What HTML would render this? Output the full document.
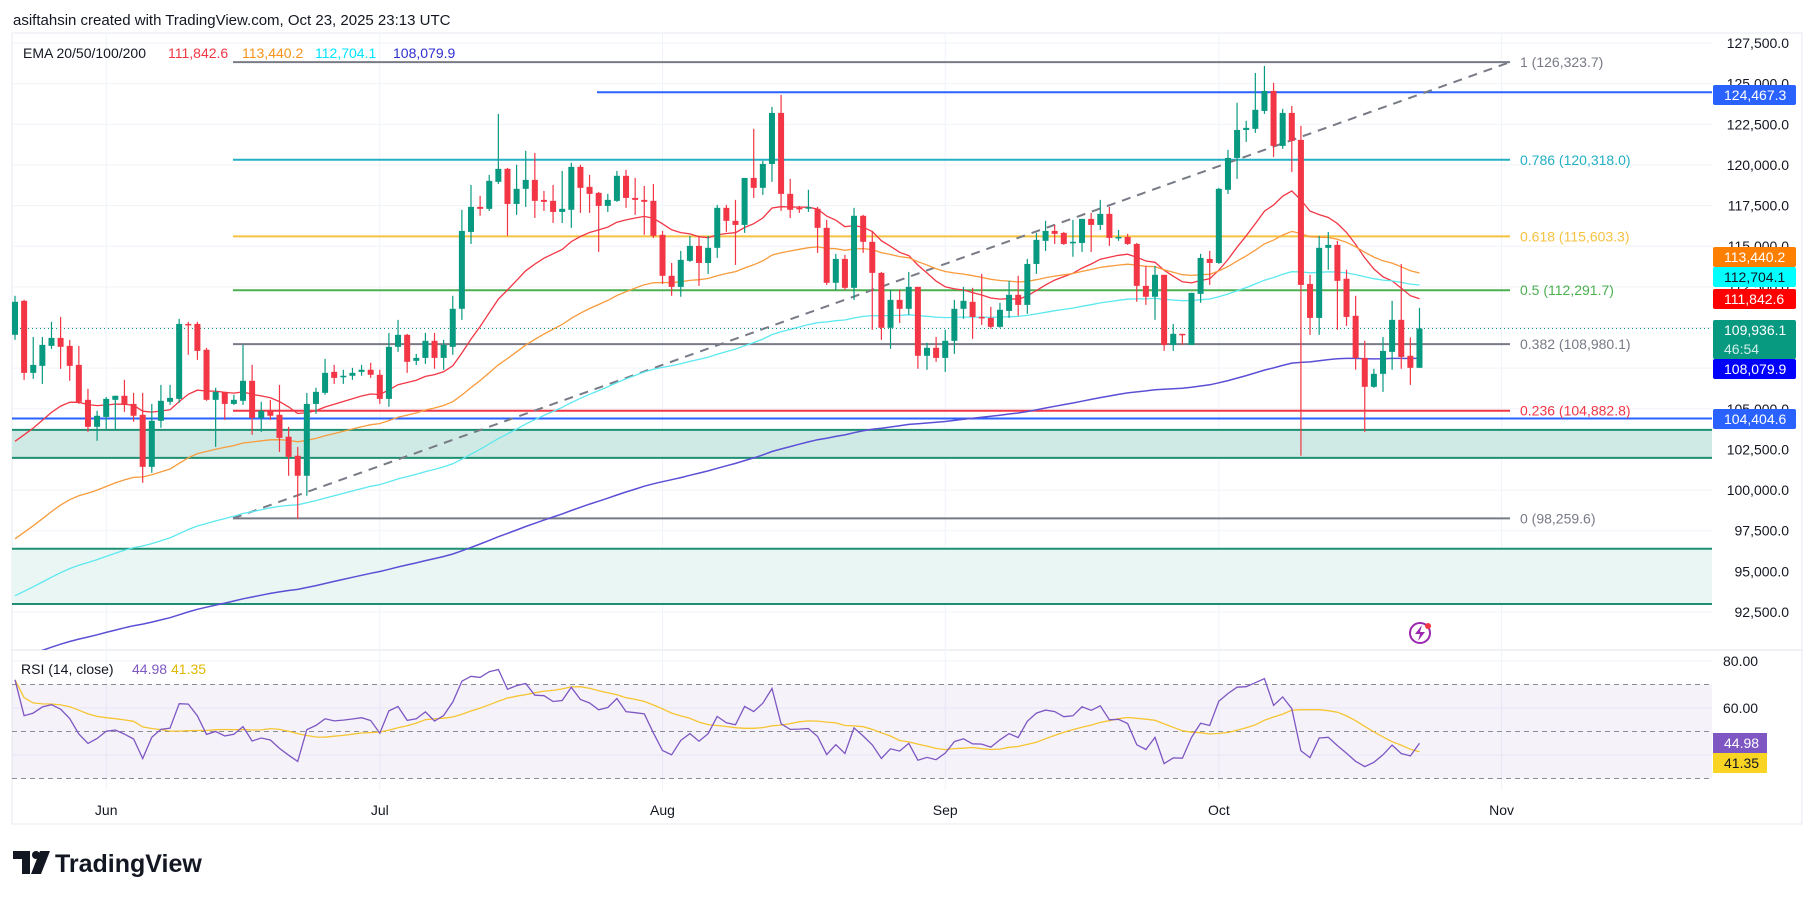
<!DOCTYPE html>
<html><head><meta charset="utf-8"><style>
body{margin:0;background:#fff;width:1815px;height:900px;overflow:hidden;font-family:"Liberation Sans",sans-serif}
svg{position:absolute;left:0;top:0}
</style></head><body>
<svg id="c" width="1815" height="900" xmlns="http://www.w3.org/2000/svg"></svg>
<script>
const opens=[109.55,111.64,107.21,107.64,108.87,109.36,108.87,107.70,105.55,103.89,
104.50,105.55,105.80,105.30,104.63,101.43,104.26,105.43,105.61,110.22,
110.22,108.63,105.55,106.04,105.30,105.49,106.72,104.44,104.88,104.63,
103.28,102.11,100.88,105.30,105.98,107.27,106.97,107.03,107.27,107.40,
107.09,105.61,108.81,109.55,107.95,108.13,109.18,108.13,108.81,111.15,
115.88,117.42,117.30,118.96,119.76,117.60,118.53,119.08,117.85,117.79,
117.11,117.24,119.88,118.65,118.28,117.48,117.79,119.33,117.97,117.85,
117.79,115.70,113.18,112.50,114.10,115.02,113.97,114.90,117.36,116.56,
116.31,119.20,118.59,120.06,123.20,118.22,117.36,117.36,117.30,116.13,
112.75,114.22,112.44,116.87,115.27,113.36,109.98,111.70,111.15,112.50,
108.26,108.75,108.13,109.18,111.15,111.58,110.65,110.59,110.04,111.02,
112.01,111.39,113.91,115.33,115.94,115.82,115.20,115.20,116.68,116.31,
116.99,115.51,115.57,115.14,112.56,111.89,113.24,108.93,109.61,108.93,
112.07,114.22,113.97,118.47,120.43,122.15,122.22,123.32,124.55,121.17,
123.20,121.54,112.68,110.59,114.90,115.08,113.00,110.72,108.13,106.35,
107.15,108.50,110.47,108.26,107.52];
const closes=[111.58,107.21,107.70,108.93,109.36,108.81,107.64,105.43,103.89,104.57,
105.61,105.80,105.24,104.57,101.43,104.26,105.49,105.67,110.22,110.16,
108.56,105.55,106.04,105.30,105.55,106.72,104.44,104.88,104.57,103.21,
102.04,100.88,105.30,106.04,107.21,106.90,107.03,107.21,107.40,107.09,
105.61,108.81,109.55,107.89,108.13,109.18,108.13,108.93,111.15,115.94,
117.42,117.30,119.02,119.76,117.60,118.53,119.08,117.79,117.73,117.11,
117.30,119.88,118.59,118.22,117.48,117.85,119.33,117.97,117.85,117.73,
115.64,113.18,112.50,114.16,115.02,113.97,114.90,117.36,116.56,116.31,
119.20,118.59,120.06,123.20,118.22,117.24,117.30,117.40,116.13,112.75,
114.22,112.44,116.87,115.27,113.36,109.98,111.70,111.15,112.50,108.26,
108.75,108.13,109.18,111.15,111.64,110.65,110.59,110.04,111.09,112.01,
111.39,113.91,115.39,115.94,115.76,115.14,115.27,116.68,116.31,116.99,
115.51,115.57,115.14,112.56,111.89,113.24,108.93,109.61,109.55,112.13,
114.28,113.97,118.53,120.43,122.15,122.28,123.39,124.55,121.17,123.20,
121.48,112.62,110.59,114.90,115.08,112.87,110.65,108.13,106.35,107.15,
108.56,110.47,108.19,107.52,109.94];
const highs=[111.95,111.70,109.42,109.42,110.35,110.65,109.24,108.87,106.23,104.88,
105.73,105.80,106.78,105.98,105.98,105.30,106.47,106.47,110.53,110.35,
110.35,108.75,106.29,106.04,105.86,108.93,107.70,105.43,105.55,106.47,
103.89,102.66,105.98,106.29,108.07,107.70,107.40,107.52,107.70,107.83,
107.40,109.67,110.47,109.61,108.38,109.67,109.67,109.24,111.95,117.24,
118.77,118.10,119.39,123.14,119.82,120.01,120.87,120.74,118.40,118.77,
119.63,120.13,120.01,119.39,118.34,118.22,119.63,119.70,119.20,118.71,
118.83,115.94,113.97,114.71,115.64,115.64,115.64,117.54,117.54,117.85,
119.20,122.22,120.25,123.57,124.31,119.14,117.48,118.47,117.42,116.62,
114.53,114.47,117.36,116.93,115.94,113.42,112.32,112.32,113.42,112.50,
109.06,109.42,109.86,111.70,112.50,112.44,113.30,111.27,111.52,112.87,
113.18,114.22,115.82,116.56,116.31,115.88,116.62,116.68,117.05,117.85,
117.42,116.00,115.76,115.20,113.79,113.79,113.24,110.22,109.61,112.13,
114.53,114.71,118.59,120.93,123.82,122.71,125.66,126.09,125.05,123.45,
123.63,122.40,113.24,115.64,115.88,115.33,113.55,111.95,109.18,107.46,
109.42,111.64,113.91,109.39,111.21];
const lows=[109.24,106.78,106.84,106.53,108.69,107.46,106.72,105.30,103.58,103.03,
103.70,103.70,104.81,104.20,100.45,101.06,103.83,105.24,105.37,108.32,
108.01,105.49,102.66,104.32,105.24,105.24,103.40,103.58,104.32,102.35,
100.88,98.23,99.65,104.69,105.86,106.53,106.53,106.78,107.03,106.90,
105.30,105.12,108.50,107.21,107.70,107.76,107.46,107.40,108.32,110.47,
115.14,116.87,117.17,118.83,115.64,116.93,117.42,116.74,117.17,116.43,
116.43,116.13,117.05,117.05,114.65,117.11,117.73,117.36,116.93,115.70,
115.51,112.68,111.95,111.89,114.04,112.56,113.30,114.28,115.88,113.85,
115.82,117.97,118.16,118.96,117.17,116.74,117.05,117.11,114.59,112.62,
112.32,112.32,111.70,114.59,109.86,109.24,108.69,110.28,110.78,107.46,
107.40,107.89,107.27,108.38,110.53,109.30,110.16,109.92,109.98,110.59,
110.72,110.84,113.30,114.71,115.14,115.08,114.35,114.65,114.65,116.00,
115.02,115.33,115.08,111.58,111.39,110.47,108.56,108.56,108.93,108.93,
111.52,112.62,113.91,118.22,119.14,121.42,121.97,123.14,120.49,120.99,
119.57,102.11,109.55,109.55,113.55,109.86,110.10,107.40,103.58,106.29,
106.04,107.40,107.46,106.47,107.52];
const priceTicks=[127.5,125,122.5,120,117.5,115,112.5,110,107.5,105,102.5,100,97.5,95,92.5];
const rsiTicks=[80,60,40];
const months=["Jun","Jul","Aug","Sep","Oct","Nov"];
const monthIdx=[10,40,71,102,132,163];
const emaPeriods=[20,50,100,200];
const emaSeeds=[103.0,97.0,93.5,89.6];
const emaColors=["#f23645","#f89b3c","#5de8f0","#5b4fd6"];
const fibLevels=[1,0.786,0.618,0.5,0.382,0.236,0];
const fibPrices=[126.3237,120.318,115.6033,112.2917,108.9801,104.8828,98.2596];
const fibColors=["#787b86","#22b0c4","#f5c242","#4caf50","#787b86","#f23645","#787b86"];

const S=document.getElementById('c');const NS="http://www.w3.org/2000/svg";
function el(t,a,p){const e=document.createElementNS(NS,t);for(const k in a)e.setAttribute(k,a[k]);(p||S).appendChild(e);return e;}
const L=12,R=1712,T=33,PB=650;
function y(p){return 43+(127.5-p)*16.257;}
function x(i){return 15+i*9.12;}
function ry(v){return 661+(80-v)*2.35;}
function fmt(v){return (v*1000).toLocaleString('en-US',{minimumFractionDigits:1,maximumFractionDigits:1});}

// defs clip
const defs=el('defs',{});
const cp=el('clipPath',{id:'pc'},defs);el('rect',{x:L,y:T,width:R-L,height:PB-T},cp);
const cr=el('clipPath',{id:'rc'},defs);el('rect',{x:L,y:PB,width:R-L,height:173},cr);

// header
let t=el('text',{x:13,y:25,'font-size':15,fill:'#131722'});t.textContent='asiftahsin created with TradingView.com, Oct 23, 2025 23:13 UTC';

// frame
el('rect',{x:L,y:T,width:1802-L,height:824-T,fill:'none',stroke:'#e6e9ef'});
el('line',{x1:L,x2:1802,y1:PB,y2:PB,stroke:'#e0e3eb'});

// grid
priceTicks.forEach(p=>{el('line',{x1:L,x2:R,y1:y(p),y2:y(p),stroke:'#f0f3fa'});});
rsiTicks.forEach(v=>{el('line',{x1:L,x2:R,y1:ry(v),y2:ry(v),stroke:'#f0f3fa'});});
monthIdx.forEach(i=>{const xx=x(i);if(xx<R){el('line',{x1:xx,x2:xx,y1:T,y2:790,stroke:'#f0f3fa'});}});

// zones
const z1=el('rect',{x:L,y:y(103.7),width:R-L,height:y(101.98)-y(103.7),fill:'#cfeae4'});

el('line',{x1:L,x2:R,y1:y(103.7),y2:y(103.7),stroke:'#1e8f73','stroke-width':2});
el('line',{x1:L,x2:R,y1:y(101.98),y2:y(101.98),stroke:'#1e8f73','stroke-width':2});
const z2=el('rect',{x:L,y:y(96.39),width:R-L,height:y(92.99)-y(96.39),fill:'#e9f6f3'});

el('line',{x1:L,x2:R,y1:y(96.39),y2:y(96.39),stroke:'#1e8f73','stroke-width':2});
el('line',{x1:L,x2:R,y1:y(92.99),y2:y(92.99),stroke:'#1e8f73','stroke-width':2});

// blue horizontal lines
let hl=el('line',{x1:597,x2:R,y1:y(124.4673),y2:y(124.4673),stroke:'#2962ff','stroke-width':2});

hl=el('line',{x1:L,x2:R,y1:y(104.4046),y2:y(104.4046),stroke:'#2962ff','stroke-width':2});


// fib
fibLevels.forEach((lv,k)=>{const yy=y(fibPrices[k]);
 const ln=el('line',{x1:233,x2:1510,y1:yy,y2:yy,stroke:fibColors[k],'stroke-width':2});
 
 const tx=el('text',{x:1520,y:yy+5,'font-size':14,fill:fibColors[k]});tx.textContent=lv+' ('+fmt(fibPrices[k])+')';
 });
// trend line
const tl=el('line',{x1:233,y1:y(98.2596),x2:1510,y2:y(126.3237),stroke:'#787b86','stroke-width':2,'stroke-dasharray':'9,7'});


// EMAs
const gE=el('g',{'clip-path':'url(#pc)'});
emaPeriods.forEach((per,k)=>{const a=2/(per+1);let e=emaSeeds[k];let d='';
 closes.forEach((c,i)=>{if(i>0)e=a*c+(1-a)*e;d+=(i?'L':'M')+x(i).toFixed(1)+' '+y(e).toFixed(1);});
 const p=el('path',{d:d,fill:'none',stroke:emaColors[k],'stroke-width':k==3?1.5:1.3},gE);
 });

// last price dotted
el('line',{x1:L,x2:R,y1:y(closes[closes.length-1]),y2:y(closes[closes.length-1]),stroke:'#089981','stroke-dasharray':'1,3'});

// candles
const gC=el('g',{'clip-path':'url(#pc)'});
closes.forEach((c,i)=>{const o=opens[i],up=c>=o,col=up?'#089981':'#f23645',xx=x(i);
 const w=el('line',{x1:xx,x2:xx,y1:y(highs[i]),y2:y(lows[i]),stroke:col,'stroke-width':1.2},gC);
 
 const top=y(Math.max(o,c)),h=Math.max(1.5,Math.abs(y(o)-y(c)));
 const b=el('rect',{x:xx-3,y:top,width:6,height:h,fill:col},gC);
 });

// legend
const lg=[['EMA 20/50/100/200','#131722',23],['111,842.6','#f23645',168],['113,440.2','#f7931a',242],['112,704.1','#00e5ff',315],['108,079.9','#2f2fd0',393]];
lg.forEach(v=>{const tx=el('text',{x:v[2],y:58,'font-size':14,fill:v[1]});tx.textContent=v[0];
 });

// price axis
priceTicks.forEach(p=>{const tx=el('text',{x:1789,y:y(p)+5,'font-size':14,fill:'#131722','text-anchor':'end'});tx.textContent=fmt(p);
 });
const boxes=[[85,'#2962ff','#fff',['124,467.3']],[247,'#ff7f00','#fff',['113,440.2']],[267,'#00ffff','#131722',['112,704.1']],[289,'#ff0000','#fff',['111,842.6']],[320,'#089981','#fff',['109,936.1','46:54']],[359,'#0000ff','#fff',['108,079.9']],[409,'#2962ff','#fff',['104,404.6']]];
boxes.forEach(b=>{const h=b[3].length*19+1;const r=el('rect',{x:1713,y:b[0],width:83,height:h,fill:b[1],rx:2});
 
 b[3].forEach((s,j)=>{const tx=el('text',{x:1724,y:b[0]+15+j*19,'font-size':14,fill:j?'#d0efe8':b[2]});tx.textContent=s;});});

// RSI pane
el('rect',{x:L,y:ry(70),width:R-L,height:ry(30)-ry(70),fill:'#7e57c2','fill-opacity':0.08});
[70,50,30].forEach(v=>{el('line',{x1:L,x2:R,y1:ry(v),y2:ry(v),stroke:'#8a8d96','stroke-dasharray':'5,4'});});
let ag=0.9,al=0.35;const rsi=[];
closes.forEach((c,i)=>{if(i>0){const ch=c-closes[i-1];ag=(ag*13+Math.max(ch,0))/14;al=(al*13+Math.max(-ch,0))/14;}rsi.push(100-100/(1+ag/al));});
const rma=rsi.map((v,i)=>{const s=rsi.slice(Math.max(0,i-13),i+1);return s.reduce((a,b)=>a+b,0)/s.length;});
const gR=el('g',{'clip-path':'url(#rc)'});
let d1='',d2='';rsi.forEach((v,i)=>{d1+=(i?'L':'M')+x(i).toFixed(1)+' '+ry(v).toFixed(1);d2+=(i?'L':'M')+x(i).toFixed(1)+' '+ry(rma[i]).toFixed(1);});
let pr=el('path',{d:d2,fill:'none',stroke:'#f7c531','stroke-width':1.3},gR);
pr=el('path',{d:d1,fill:'none',stroke:'#7e57c2','stroke-width':1.3},gR);
rsiTicks.forEach(v=>{const tx=el('text',{x:1723,y:ry(v)+5,'font-size':14,fill:'#131722'});tx.textContent=v.toFixed(2);
 });
const lr=rsi[rsi.length-1],lm=rma[rma.length-1];
[[733,'#7e57c2','#fff',lr.toFixed(2)],[753,'#f9d423','#131722',lm.toFixed(2)]].forEach(b=>{const r=el('rect',{x:1713,y:b[0],width:54,height:20,fill:b[1]});
 
 const tx=el('text',{x:1724,y:b[0]+15,'font-size':14,fill:b[2]});tx.textContent=b[3];});
[['RSI (14, close)','#131722',21],[lr.toFixed(2),'#7e57c2',132],[lm.toFixed(2),'#e0b800',171]].forEach(v=>{const tx=el('text',{x:v[2],y:674,'font-size':14,fill:v[1]});tx.textContent=v[0];
 });

// months
months.forEach((m,k)=>{const tx=el('text',{x:x(monthIdx[k]),y:815,'font-size':14,fill:'#131722','text-anchor':'middle'});tx.textContent=m;
 });

// lightning icon
const ic=el('g',{});
el('circle',{cx:1420,cy:633,r:10,fill:'none',stroke:'#9c27b0','stroke-width':2},ic);
el('path',{d:'M1422 625 L1415 634 L1420 634 L1418 641 L1425 632 L1420 632 Z',fill:'#9c27b0'},ic);
el('circle',{cx:1428,cy:626,r:3,fill:'#f23645'},ic);

// logo
const lgG=el('g',{});
el('path',{d:'M13 851 H30 V874 H22 V859 H13 Z',fill:'#131722'},lgG);
el('circle',{cx:36,cy:855,r:4,fill:'#131722'},lgG);
el('path',{d:'M40 851 H50 L41 874 H31 Z',fill:'#131722'},lgG);
const lt=el('text',{x:55,y:872,'font-size':25,'font-weight':'bold',fill:'#131722'},lgG);lt.textContent='TradingView';
</script>
</body></html>
